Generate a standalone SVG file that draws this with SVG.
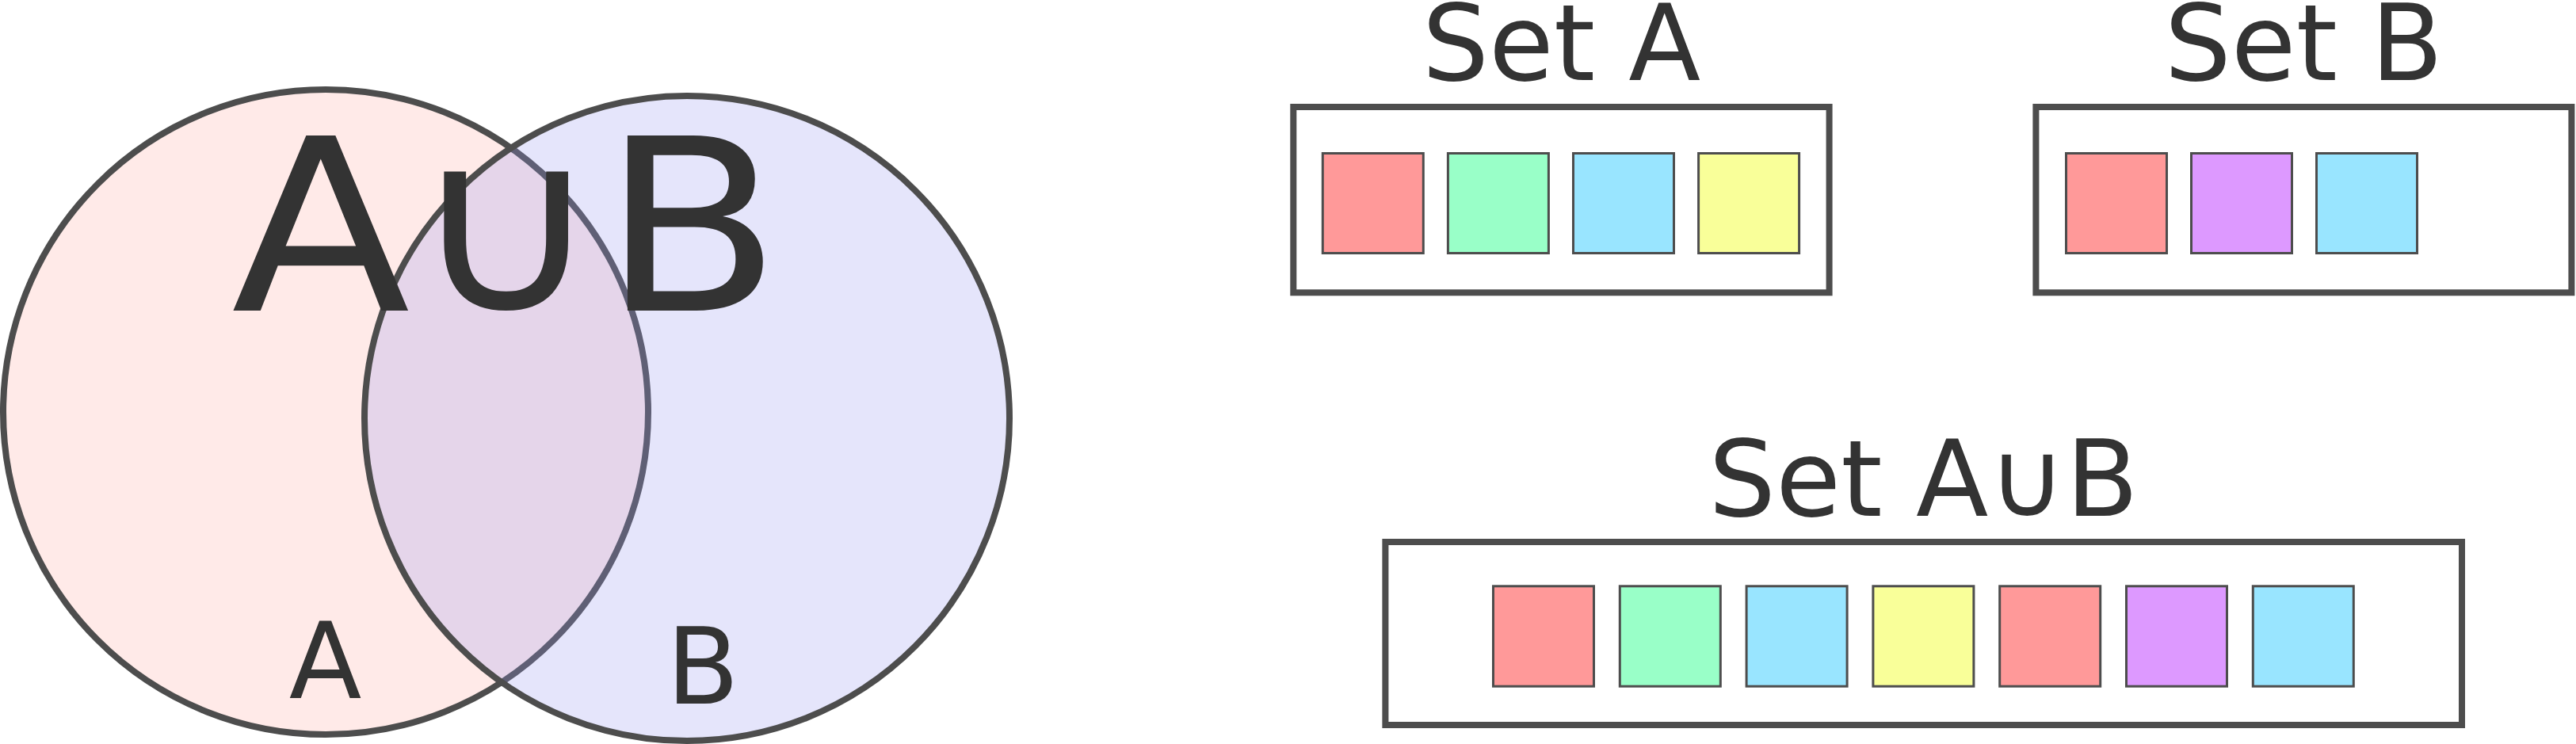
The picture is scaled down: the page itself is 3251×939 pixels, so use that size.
<svg xmlns="http://www.w3.org/2000/svg" width="3251" height="939" viewBox="0 0 3251 939">
<style>
.lbl{font-family:"DejaVu Sans","Liberation Sans",sans-serif;fill:#333333;text-anchor:middle}
.ring{stroke:#4d4d4d;stroke-width:8}
.box{fill:#ffffff;stroke:#4d4d4d;stroke-width:8}
.sq{stroke:#4d4d4d;stroke-width:3}
.r{fill:#ff9999}.g{fill:#99ffc8}.c{fill:#99e5ff}.y{fill:#f9ff99}.p{fill:#dd99ff}
</style>
<rect width="3251" height="939" fill="#ffffff"/>
<g id="circle-a"><circle class="ring" cx="411" cy="520" r="407" fill="#ffeae8"/></g>
<g id="circle-b"><circle class="ring" cx="867" cy="528" r="407" fill="rgb(150,150,240)" fill-opacity="0.25"/></g>
<g id="label-union"><text class="lbl" font-size="303" transform="translate(639 392) scale(1.09 1)" x="0" y="0">A∪B</text></g>
<g id="label-a"><text class="lbl" font-size="134" x="410.5" y="881">A</text></g>
<g id="label-b"><text class="lbl" font-size="134" x="887" y="888">B</text></g>
<g id="set-a">
<text class="lbl" font-size="133" x="1970.5" y="100.5">Set A</text>
<rect class="box" x="1632.3" y="135" width="676.3" height="234.3"/>
<rect class="sq r" x="1669.3" y="193.5" width="127" height="126"/>
<rect class="sq g" x="1827.4" y="193.5" width="127" height="126"/>
<rect class="sq c" x="1985.5" y="193.5" width="127" height="126"/>
<rect class="sq y" x="2143.6" y="193.5" width="127" height="126"/>
</g>
<g id="set-b">
<text class="lbl" font-size="133" x="2907.4" y="100.5">Set B</text>
<rect class="box" x="2569.4" y="135" width="676" height="234.3"/>
<rect class="sq r" x="2607.5" y="193.5" width="127" height="126"/>
<rect class="sq p" x="2765.5" y="193.5" width="127" height="126"/>
<rect class="sq c" x="2923.5" y="193.5" width="127" height="126"/>
</g>
<g id="set-aub">
<text class="lbl" font-size="133.6" x="2427.5" y="650.7">Set A∪B</text>
<rect class="box" x="1748.4" y="684" width="1358.6" height="231"/>
<rect class="sq r" x="1884.5" y="739.8" width="127" height="126.4"/>
<rect class="sq g" x="2044.3" y="739.8" width="127" height="126.4"/>
<rect class="sq c" x="2204.1" y="739.8" width="127" height="126.4"/>
<rect class="sq y" x="2363.9" y="739.8" width="127" height="126.4"/>
<rect class="sq r" x="2523.7" y="739.8" width="127" height="126.4"/>
<rect class="sq p" x="2683.5" y="739.8" width="127" height="126.4"/>
<rect class="sq c" x="2843.3" y="739.8" width="127" height="126.4"/>
</g>
<g id="connectors"/>
</svg>
